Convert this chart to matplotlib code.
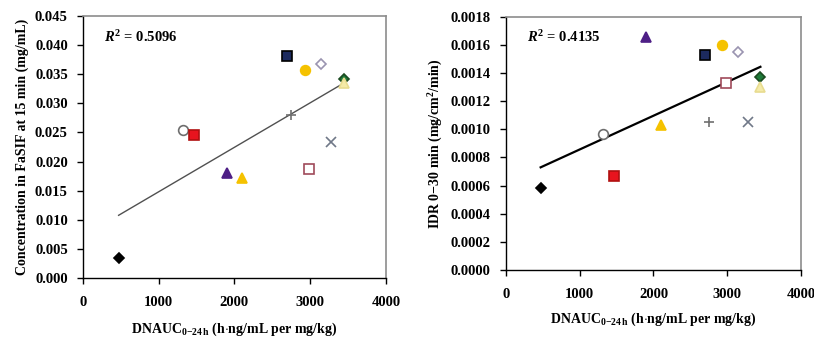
import numpy as np
import matplotlib.pyplot as plt
from matplotlib.ticker import FormatStrFormatter

plt.rcParams['font.family'] = 'Liberation Serif'
plt.rcParams['font.weight'] = 'bold'
plt.rcParams['axes.labelweight'] = 'bold'
plt.rcParams['mathtext.fontset'] = 'custom'
plt.rcParams['mathtext.rm'] = 'Liberation Serif:bold'
plt.rcParams['mathtext.it'] = 'Liberation Serif:italic:bold'
plt.rcParams['mathtext.bf'] = 'Liberation Serif:bold'

# DNAUC 0-24h, same for both panels
dnauc = [470, 1320, 1460, 1900, 2100, 2700, 2750, 2930, 2980, 3150, 3280, 3450, 3450]
# concentration in FaSIF at 15 min (mg/mL)
conc = [0.0035, 0.0254, 0.0246, 0.0180, 0.0171, 0.0382, 0.0280, 0.0358, 0.0187,
        0.0368, 0.0234, 0.0342, 0.0335]
# IDR 0-30 min (mg/cm2/min)
idr = [0.00058, 0.00097, 0.00067, 0.00166, 0.00103, 0.00153, 0.00105, 0.00160,
       0.00133, 0.00155, 0.00105, 0.00137, 0.00130]

r2_left = "0.5096"
r2_right = "0.4135"

# marker, face colour, edge colour, size
styles = [
    ("D", "black", "black", 5),
    ("o", "white", "#6e6e6e", 7),
    ("s", "#e8141e", "#b01010", 7),
    ("^", "#4e1f86", "#4e1f86", 7),
    ("^", "#f5c200", "#f5c200", 7),
    ("s", "#1c2a5e", "black", 7),
    ("+", "none", "#707070", 7),
    ("o", "#f5c200", "#f5c200", 7),
    ("s", "white", "#a04a5a", 7),
    ("D", "white", "#9a94b0", 5),
    ("x", "none", "#707888", 7),
    ("D", "#1f7a3a", "#1a4a20", 5),
    ("^", "#f4eaa8", "#e8dc90", 7),
]

fig = plt.figure(figsize=(8.14, 3.37), dpi=100)
ax1 = fig.add_axes([0.102, 0.175, 0.372, 0.7775])
ax2 = fig.add_axes([0.6216, 0.199, 0.3624, 0.7507])


def panel(ax, y, ymax, ystep, fmt, r2, lcolor, lw, ylabel, xlpad):
    for xi, yi, (m, fc, ec, ms) in zip(dnauc, y, styles):
        ax.plot(xi, yi, marker=m, markerfacecolor=fc, markeredgecolor=ec,
                markersize=ms, markeredgewidth=1.2, linestyle="none", zorder=3)
    k, b = np.polyfit(dnauc, y, 1)
    xs = np.array([min(dnauc), max(dnauc)])
    ax.plot(xs, k * xs + b, color=lcolor, lw=lw, zorder=2)
    ax.set_xlim(0, 4000)
    ax.set_ylim(0, ymax)
    ax.set_xticks(np.arange(0, 4001, 1000))
    ax.set_yticks(np.arange(0, ymax + ystep / 2, ystep))
    ax.yaxis.set_major_formatter(FormatStrFormatter(fmt))
    ax.tick_params(direction="out", length=4, width=1, labelsize=10.5, color="black")
    ax.tick_params(axis="x", pad=9)
    ax.tick_params(axis="y", pad=7)
    for s in ["top", "right"]:
        ax.spines[s].set_color("#8c8c8c")
        ax.spines[s].set_linewidth(1.2)
    for s in ["left", "bottom"]:
        ax.spines[s].set_color("black")
        ax.spines[s].set_linewidth(1)
    ax.text(0.07, 0.92, r"$R^{2}$ = " + r2, transform=ax.transAxes, fontsize=10.5,
            va="center", ha="left")
    ax.set_xlabel(r"DNAUC$_{0\mathrm{-}24\,\mathrm{h}}$ (h$\cdot$ng/mL per mg/kg)",
                  fontsize=10, labelpad=xlpad)
    ax.set_ylabel(ylabel, fontsize=10, labelpad=4)


panel(ax1, conc, 0.045, 0.005, "%.3f", r2_left, "#505050", 1.0,
      "Concentration in FaSIF at 15 min (mg/mL)", 8)
panel(ax2, idr, 0.0018, 0.0002, "%.4f", r2_right, "black", 1.6,
      r"IDR 0$-$30 min (mg/cm$^{2}$/min)", 7)

fig.savefig("out.png", dpi=100)
